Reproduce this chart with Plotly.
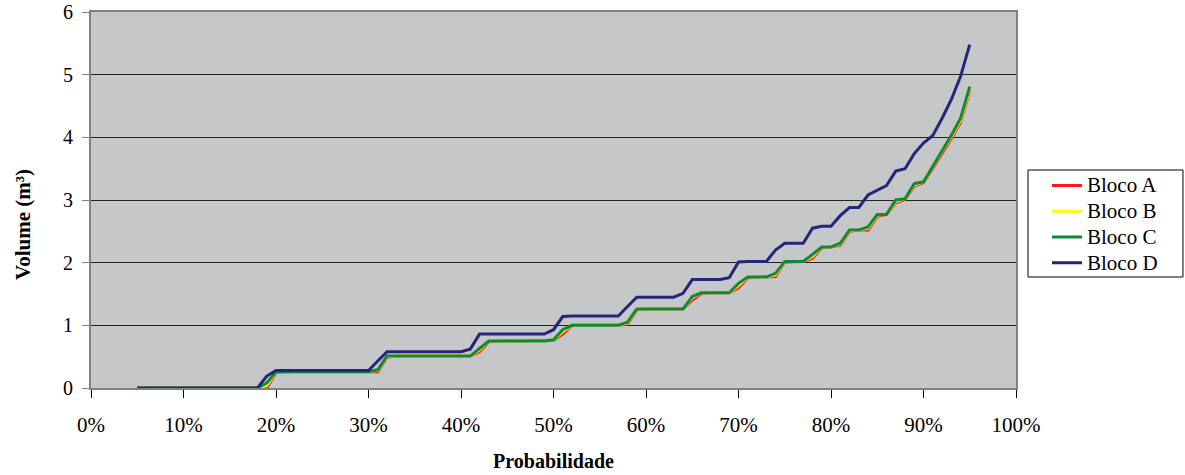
import plotly.graph_objects as go

# Probability (%) from 5 to 95, step 1
prob_pct = [5, 6, 7, 8, 9,
            10, 11, 12, 13, 14, 15, 16, 17, 18, 19,
            20, 21, 22, 23, 24, 25, 26, 27, 28, 29,
            30, 31, 32, 33, 34, 35, 36, 37, 38, 39,
            40, 41, 42, 43, 44, 45, 46, 47, 48, 49,
            50, 51, 52, 53, 54, 55, 56, 57, 58, 59,
            60, 61, 62, 63, 64, 65, 66, 67, 68, 69,
            70, 71, 72, 73, 74, 75, 76, 77, 78, 79,
            80, 81, 82, 83, 84, 85, 86, 87, 88, 89,
            90, 91, 92, 93, 94, 95]

bloco_a = [0, 0, 0, 0, 0,
           0, 0, 0, 0, 0, 0, 0, 0, 0, 0.0,
           0.25, 0.26, 0.26, 0.26, 0.26, 0.26, 0.26, 0.26, 0.26, 0.26,
           0.26, 0.26, 0.49, 0.51, 0.51, 0.51, 0.51, 0.51, 0.51, 0.51,
           0.51, 0.51, 0.58, 0.74, 0.75, 0.75, 0.75, 0.75, 0.75, 0.75,
           0.76, 0.86, 1.00, 1.00, 1.00, 1.00, 1.00, 1.00, 1.02, 1.25,
           1.26, 1.26, 1.26, 1.26, 1.26, 1.40, 1.51, 1.52, 1.52, 1.52,
           1.60, 1.76, 1.77, 1.77, 1.78, 2.01, 2.02, 2.02, 2.07, 2.24,
           2.25, 2.28, 2.50, 2.52, 2.52, 2.74, 2.77, 2.96, 3.01, 3.22,
           3.28, 3.50, 3.74, 3.98, 4.24, 4.75]

bloco_b = [0, 0, 0, 0, 0,
           0, 0, 0, 0, 0, 0, 0, 0, 0, 0.04,
           0.26, 0.26, 0.26, 0.26, 0.26, 0.26, 0.26, 0.26, 0.26, 0.26,
           0.26, 0.28, 0.50, 0.51, 0.51, 0.51, 0.51, 0.51, 0.51, 0.51,
           0.51, 0.51, 0.61, 0.75, 0.75, 0.75, 0.75, 0.75, 0.75, 0.75,
           0.77, 0.90, 1.00, 1.00, 1.00, 1.00, 1.00, 1.00, 1.04, 1.26,
           1.26, 1.26, 1.26, 1.26, 1.26, 1.44, 1.52, 1.52, 1.52, 1.52,
           1.64, 1.77, 1.77, 1.77, 1.81, 2.02, 2.02, 2.02, 2.10, 2.25,
           2.25, 2.30, 2.51, 2.52, 2.55, 2.76, 2.77, 2.98, 3.02, 3.24,
           3.29, 3.52, 3.77, 4.01, 4.27, 4.78]

bloco_c = [0, 0, 0, 0, 0,
           0, 0, 0, 0, 0, 0, 0, 0, 0, 0.08,
           0.26, 0.26, 0.26, 0.26, 0.26, 0.26, 0.26, 0.26, 0.26, 0.26,
           0.26, 0.29, 0.51, 0.51, 0.51, 0.51, 0.51, 0.51, 0.51, 0.51,
           0.51, 0.51, 0.63, 0.75, 0.75, 0.75, 0.75, 0.75, 0.75, 0.75,
           0.77, 0.93, 1.00, 1.00, 1.00, 1.00, 1.00, 1.00, 1.05, 1.26,
           1.26, 1.26, 1.26, 1.26, 1.26, 1.46, 1.52, 1.52, 1.52, 1.52,
           1.67, 1.77, 1.77, 1.77, 1.83, 2.02, 2.02, 2.02, 2.13, 2.25,
           2.25, 2.31, 2.52, 2.52, 2.57, 2.77, 2.77, 3.00, 3.02, 3.26,
           3.29, 3.53, 3.79, 4.03, 4.30, 4.81]

bloco_d = [0, 0, 0, 0, 0,
           0, 0, 0, 0, 0, 0, 0, 0, 0, 0.19,
           0.28, 0.28, 0.28, 0.28, 0.28, 0.28, 0.28, 0.28, 0.28, 0.28,
           0.28, 0.43, 0.58, 0.58, 0.58, 0.58, 0.58, 0.58, 0.58, 0.58,
           0.58, 0.62, 0.86, 0.86, 0.86, 0.86, 0.86, 0.86, 0.86, 0.86,
           0.93, 1.14, 1.15, 1.15, 1.15, 1.15, 1.15, 1.15, 1.30, 1.45,
           1.45, 1.45, 1.45, 1.45, 1.51, 1.73, 1.73, 1.73, 1.73, 1.76,
           2.01, 2.02, 2.02, 2.02, 2.20, 2.31, 2.31, 2.31, 2.55, 2.58,
           2.58, 2.75, 2.88, 2.88, 3.08, 3.16, 3.23, 3.46, 3.50, 3.74,
           3.91, 4.03, 4.30, 4.60, 4.97, 5.48]

series_names = ["Bloco A", "Bloco B", "Bloco C", "Bloco D"]
series_colors = ["#FF1A1A", "#FFFF00", "#0C8A3C", "#25257A"]
series_values = [bloco_a, bloco_b, bloco_c, bloco_d]

x_vals = [p / 100 for p in prob_pct]

FONT = "Liberation Serif, Times New Roman, serif"

fig = go.Figure()
for name, color, vals in zip(series_names, series_colors, series_values):
    fig.add_trace(go.Scatter(x=x_vals, y=vals, mode="lines",
                             name=f"<span style='font-size:21px'>{name}</span>",
                             line=dict(color=color, width=3)))

# legend frame (Excel-style box)
fig.add_shape(type="rect", xref="paper", yref="paper",
              x0=1.013, x1=1.1805, y0=0.2952, y1=0.5798,
              line=dict(color="black", width=1), fillcolor="white", layer="below")

# y-axis title placed as in the reference
fig.add_annotation(text="<b>Volume (m³)</b>", xref="paper", yref="paper",
                   x=-0.0735, y=0.4335, xanchor="center", yanchor="middle",
                   textangle=-90, showarrow=False,
                   font=dict(family=FONT, size=21, color="black"))

fig.update_layout(
    width=1185, height=475,
    margin=dict(l=91, r=169, t=12, b=87),
    paper_bgcolor="white",
    plot_bgcolor="#C6C7C9",
    font=dict(family=FONT, size=20, color="black"),
    showlegend=True,
    legend=dict(x=1.0335, y=0.586, xanchor="left", yanchor="top",
                bgcolor="rgba(0,0,0,0)", borderwidth=0,
                font=dict(family=FONT, size=17.5), tracegroupgap=0),
    xaxis=dict(range=[0, 1], dtick=0.1, tick0=0, tickformat=".0%",
               showgrid=False, zeroline=False, automargin=False,
               showline=True, linecolor="#808080", linewidth=2, mirror=True,
               ticks="outside", ticklen=8, tickcolor="#000000",
               tickfont=dict(family=FONT, size=21),
               ticklabelstandoff=9,
               title=dict(text="<b>Probabilidade</b>", font=dict(family=FONT, size=20), standoff=18)),
    yaxis=dict(range=[0, 6], dtick=1, tick0=0,
               showgrid=True, gridcolor="#222222", gridwidth=1,
               zeroline=False, automargin=False,
               showline=True, linecolor="#808080", linewidth=2, mirror=True,
               ticks="outside", ticklen=7, tickcolor="#808080",
               tickfont=dict(family=FONT, size=20),
               ticklabelstandoff=5),
)

fig.write_html("out.html", config={"displayModeBar": False},
               post_script="document.body.style.margin='0';")
